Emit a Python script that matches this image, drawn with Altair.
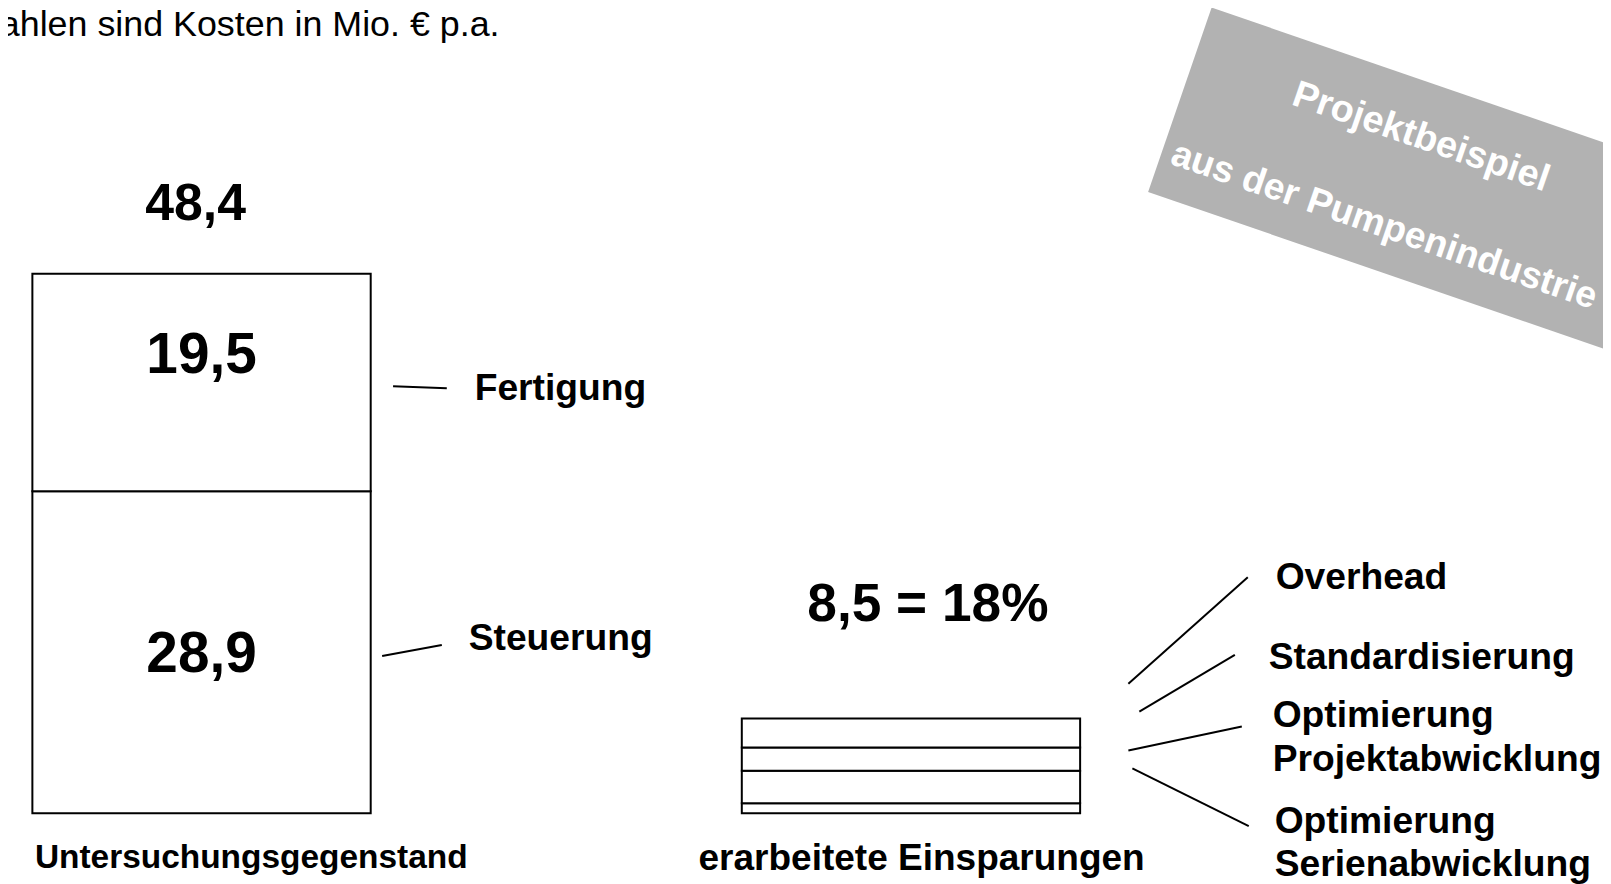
import altair as alt
import pandas as pd

# ---------------- data ----------------
gruppen = ["Untersuchungsgegenstand", "erarbeitete Einsparungen"]
kosten_segmente = ["Steuerung", "Fertigung"]          # bottom -> top
kosten_werte = [28.9, 19.5]
kosten_labels = ["28,9", "19,5"]
kosten_summe = 48.4
kosten_summe_label = "48,4"
einspar_segmente = ["Optimierung Serienabwicklung", "Optimierung Projektabwicklung",
                    "Standardisierung", "Overhead"]   # bottom -> top
einspar_werte = [0.9, 2.9, 2.1, 2.6]
einspar_summe = 8.5
einspar_label = "8,5 = 18%"
hinweis = "Alle Zahlen sind Kosten in Mio. € p.a."
wasserzeichen = ["Projektbeispiel", "aus der Pumpenindustrie"]

# ---------------- tables ----------------
rows = []
for grp, segs, vals in [(gruppen[0], kosten_segmente, kosten_werte),
                        (gruppen[1], einspar_segmente, einspar_werte)]:
    s = 0.0
    for seg, v in zip(segs, vals):
        rows.append({"gruppe": grp, "segment": seg, "start": s, "ende": s + v, "mitte": s + v / 2})
        s += v
bars = pd.DataFrame(rows)

W, H = 1603, 876
FONT = "Liberation Sans"

xs = alt.Scale(domain=gruppen, range=[24.5, 1077.5], paddingInner=0.5231, paddingOuter=0)
ys = alt.Scale(domain=[0, kosten_summe], range=[807, 265], nice=False, zero=False)

X = alt.X("gruppe:N", scale=xs, axis=None)

bar_layer = alt.Chart(bars).mark_bar(fill="white", stroke="black", strokeWidth=2).encode(
    x=X, y=alt.Y("start:Q", scale=ys, axis=None), y2="ende:Q"
)

layers = [bar_layer]

def seg_text(i, dx, dy, size=57):
    d = pd.DataFrame({"gruppe": [gruppen[0]], "mitte": [bars.iloc[i]["mitte"]], "t": [kosten_labels[i]]})
    return alt.Chart(d).mark_text(font=FONT, fontWeight="bold", fontSize=size, baseline="alphabetic",
                                  align="center", dx=dx, dy=dy).encode(
        x=X, y=alt.Y("mitte:Q", scale=ys, axis=None), text="t:N")

layers.append(seg_text(0, 0, 19.5))
layers.append(seg_text(1, 0, -10))

def total_text(grp, val, label, dx, dy, size):
    d = pd.DataFrame({"gruppe": [grp], "v": [val], "t": [label]})
    return alt.Chart(d).mark_text(font=FONT, fontWeight="bold", fontSize=size, baseline="alphabetic",
                                  align="center", dx=dx, dy=dy).encode(
        x=X, y=alt.Y("v:Q", scale=ys, axis=None), text="t:N")

layers.append(total_text(gruppen[0], kosten_summe, kosten_summe_label, -6, -54, 52))
layers.append(total_text(gruppen[1], einspar_summe, einspar_label, 17, -98, 53.5))

def cat_text(grp, dx, dy, size):
    d = pd.DataFrame({"gruppe": [grp], "v": [0.0], "t": [grp]})
    return alt.Chart(d).mark_text(font=FONT, fontWeight="bold", fontSize=size, baseline="alphabetic",
                                  align="left", dx=dx, dy=dy).encode(
        x=X, y=alt.Y("v:Q", scale=ys, axis=None), text="t:N")

layers.append(cat_text(gruppen[0], -167.5, 55, 33.6))
layers.append(cat_text(gruppen[1], -213.5, 57, 37.2))

def label(text, x, y, size=37.4, weight="bold", align="left", color="black", angle=0,
          baseline="alphabetic"):
    d = pd.DataFrame({"t": [text]})
    kw = dict(font=FONT, fontWeight=weight, fontSize=size, align=align, color=color,
              baseline=baseline)
    if angle:
        kw["angle"] = angle
    return alt.Chart(d).mark_text(**kw).encode(x=alt.value(x), y=alt.value(y), text="t:N")

def linie(x1, y1, x2, y2):
    d = pd.DataFrame({"k": [0]})
    return alt.Chart(d).mark_rule(color="black", strokeWidth=2).encode(
        x=alt.value(x1), y=alt.value(y1), x2=alt.value(x2), y2=alt.value(y2))

# side labels of left bar
layers.append(label(kosten_segmente[1], 469, 392))
layers.append(label(kosten_segmente[0], 463, 643))
layers.append(linie(387, 378, 441, 380))
layers.append(linie(376, 649, 436, 638))

# side labels of right bar
layers.append(label(einspar_segmente[3], 1274, 582))
layers.append(label(einspar_segmente[2], 1267, 662))
layers.append(label(einspar_segmente[1].split(" ")[0], 1271, 720))
layers.append(label(einspar_segmente[1].split(" ")[1], 1271, 765))
layers.append(label(einspar_segmente[0].split(" ")[0], 1273, 827))
layers.append(label(einspar_segmente[0].split(" ")[1], 1273, 870))
layers.append(linie(1126, 677, 1246, 570))
layers.append(linie(1137, 705, 1233, 648))
layers.append(linie(1126, 744, 1240, 720))
layers.append(linie(1130, 762, 1247, 820))

# note top-left (clipped at the left edge like in the slide)
layers.append(label(hinweis, 494, 26, size=36, weight="normal", align="right"))

# watermark
wm = alt.Chart(pd.DataFrame({"k": [0]})).mark_point(
    shape="M-1.426,-0.5L1.426,-0.5L1.426,0.5L-1.426,0.5Z", filled=True, size=153664,
    angle=19, color="#b2b2b2", opacity=1, strokeWidth=0
).encode(x=alt.value(1442), y=alt.value(181))
layers.append(wm)
layers.append(label(wasserzeichen[0], 1420, 128, size=38, align="center", color="white",
                    angle=19, baseline="middle"))
layers.append(label(wasserzeichen[1], 1383, 217, size=37.5, align="center", color="white",
                    angle=19, baseline="middle"))

chart = alt.layer(*layers).properties(
    width=W, height=H, padding=0, background="white",
    autosize=alt.AutoSizeParams(type="none")
).configure_view(strokeWidth=0)

chart.save("out.html", embed_options={"renderer": "svg", "actions": False})
